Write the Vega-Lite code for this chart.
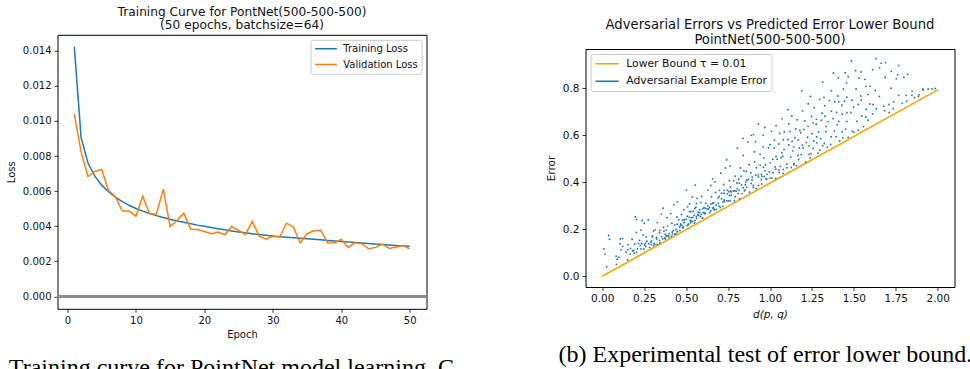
{
  "$schema": "https://vega.github.io/schema/vega-lite/v6.json",
  "padding": {"left": 5.5, "top": 0, "right": 0, "bottom": 0},
  "background": "white",
  "spacing": 91,
  "resolve": {"scale": {"color": "independent", "x": "independent", "y": "independent"}, "legend": {"color": "independent"}},
  "config": {
    "font": "DejaVu Sans",
    "view": {"stroke": "#000000", "strokeWidth": 1},
    "axis": {"grid": false, "domain": false, "tickColor": "#000000", "tickSize": 3.5, "tickWidth": 0.8, "labelColor": "#111111", "labelFont": "DejaVu Sans", "labelFontSize": 10, "titleFont": "DejaVu Sans", "titleFontWeight": "normal", "titleFontSize": 10, "titleColor": "#111111", "labelPadding": 3},
    "title": {"font": "DejaVu Sans", "fontWeight": "normal", "color": "#111111"}
  },
  "datasets": {
    "none": [],
    "loss": [
      {"ep":1,"loss":0.01423,"s":"Training Loss"},{"ep":2,"loss":0.00905,"s":"Training Loss"},{"ep":3,"loss":0.0076,"s":"Training Loss"},{"ep":4,"loss":0.00685,"s":"Training Loss"},{"ep":5,"loss":0.00634,"s":"Training Loss"},
      {"ep":6,"loss":0.00596,"s":"Training Loss"},{"ep":7,"loss":0.00565,"s":"Training Loss"},{"ep":8,"loss":0.0054,"s":"Training Loss"},{"ep":9,"loss":0.00519,"s":"Training Loss"},{"ep":10,"loss":0.00501,"s":"Training Loss"},
      {"ep":11,"loss":0.00486,"s":"Training Loss"},{"ep":12,"loss":0.00472,"s":"Training Loss"},{"ep":13,"loss":0.0046,"s":"Training Loss"},{"ep":14,"loss":0.00449,"s":"Training Loss"},{"ep":15,"loss":0.00439,"s":"Training Loss"},
      {"ep":16,"loss":0.0043,"s":"Training Loss"},{"ep":17,"loss":0.00422,"s":"Training Loss"},{"ep":18,"loss":0.00414,"s":"Training Loss"},{"ep":19,"loss":0.00406,"s":"Training Loss"},{"ep":20,"loss":0.00399,"s":"Training Loss"},
      {"ep":21,"loss":0.00392,"s":"Training Loss"},{"ep":22,"loss":0.00385,"s":"Training Loss"},{"ep":23,"loss":0.00379,"s":"Training Loss"},{"ep":24,"loss":0.00373,"s":"Training Loss"},{"ep":25,"loss":0.00367,"s":"Training Loss"},
      {"ep":26,"loss":0.00362,"s":"Training Loss"},{"ep":27,"loss":0.00357,"s":"Training Loss"},{"ep":28,"loss":0.00352,"s":"Training Loss"},{"ep":29,"loss":0.00348,"s":"Training Loss"},{"ep":30,"loss":0.00344,"s":"Training Loss"},
      {"ep":31,"loss":0.0034,"s":"Training Loss"},{"ep":32,"loss":0.00337,"s":"Training Loss"},{"ep":33,"loss":0.00334,"s":"Training Loss"},{"ep":34,"loss":0.00331,"s":"Training Loss"},{"ep":35,"loss":0.00328,"s":"Training Loss"},
      {"ep":36,"loss":0.00325,"s":"Training Loss"},{"ep":37,"loss":0.00322,"s":"Training Loss"},{"ep":38,"loss":0.00319,"s":"Training Loss"},{"ep":39,"loss":0.00316,"s":"Training Loss"},{"ep":40,"loss":0.00313,"s":"Training Loss"},
      {"ep":41,"loss":0.0031,"s":"Training Loss"},{"ep":42,"loss":0.00307,"s":"Training Loss"},{"ep":43,"loss":0.00304,"s":"Training Loss"},{"ep":44,"loss":0.00301,"s":"Training Loss"},{"ep":45,"loss":0.00298,"s":"Training Loss"},
      {"ep":46,"loss":0.00296,"s":"Training Loss"},{"ep":47,"loss":0.00293,"s":"Training Loss"},{"ep":48,"loss":0.0029,"s":"Training Loss"},{"ep":49,"loss":0.00288,"s":"Training Loss"},{"ep":50,"loss":0.00285,"s":"Training Loss"},
      {"ep":1,"loss":0.0104,"s":"Validation Loss"},{"ep":2,"loss":0.00822,"s":"Validation Loss"},{"ep":3,"loss":0.00683,"s":"Validation Loss"},{"ep":4,"loss":0.00712,"s":"Validation Loss"},{"ep":5,"loss":0.00723,"s":"Validation Loss"},
      {"ep":6,"loss":0.00603,"s":"Validation Loss"},{"ep":7,"loss":0.00569,"s":"Validation Loss"},{"ep":8,"loss":0.00486,"s":"Validation Loss"},{"ep":9,"loss":0.00486,"s":"Validation Loss"},{"ep":10,"loss":0.00457,"s":"Validation Loss"},
      {"ep":11,"loss":0.00571,"s":"Validation Loss"},{"ep":12,"loss":0.00469,"s":"Validation Loss"},{"ep":13,"loss":0.00469,"s":"Validation Loss"},{"ep":14,"loss":0.00611,"s":"Validation Loss"},{"ep":15,"loss":0.00398,"s":"Validation Loss"},
      {"ep":16,"loss":0.00433,"s":"Validation Loss"},{"ep":17,"loss":0.00474,"s":"Validation Loss"},{"ep":18,"loss":0.00383,"s":"Validation Loss"},{"ep":19,"loss":0.00381,"s":"Validation Loss"},{"ep":20,"loss":0.0037,"s":"Validation Loss"},
      {"ep":21,"loss":0.00357,"s":"Validation Loss"},{"ep":22,"loss":0.00366,"s":"Validation Loss"},{"ep":23,"loss":0.00351,"s":"Validation Loss"},{"ep":24,"loss":0.00398,"s":"Validation Loss"},{"ep":25,"loss":0.00376,"s":"Validation Loss"},
      {"ep":26,"loss":0.00353,"s":"Validation Loss"},{"ep":27,"loss":0.00427,"s":"Validation Loss"},{"ep":28,"loss":0.00345,"s":"Validation Loss"},{"ep":29,"loss":0.00326,"s":"Validation Loss"},{"ep":30,"loss":0.00342,"s":"Validation Loss"},
      {"ep":31,"loss":0.00338,"s":"Validation Loss"},{"ep":32,"loss":0.00417,"s":"Validation Loss"},{"ep":33,"loss":0.00395,"s":"Validation Loss"},{"ep":34,"loss":0.00304,"s":"Validation Loss"},{"ep":35,"loss":0.00357,"s":"Validation Loss"},
      {"ep":36,"loss":0.00374,"s":"Validation Loss"},{"ep":37,"loss":0.00376,"s":"Validation Loss"},{"ep":38,"loss":0.00306,"s":"Validation Loss"},{"ep":39,"loss":0.00304,"s":"Validation Loss"},{"ep":40,"loss":0.00324,"s":"Validation Loss"},
      {"ep":41,"loss":0.00279,"s":"Validation Loss"},{"ep":42,"loss":0.00306,"s":"Validation Loss"},{"ep":43,"loss":0.003,"s":"Validation Loss"},{"ep":44,"loss":0.00271,"s":"Validation Loss"},{"ep":45,"loss":0.00279,"s":"Validation Loss"},
      {"ep":46,"loss":0.00298,"s":"Validation Loss"},{"ep":47,"loss":0.00273,"s":"Validation Loss"},{"ep":48,"loss":0.00281,"s":"Validation Loss"},{"ep":49,"loss":0.0029,"s":"Validation Loss"},{"ep":50,"loss":0.00271,"s":"Validation Loss"}
    ],
    "bound": [{"d":0,"e":0},{"d":2,"e":0.792}],
    "adv": [
      {"d":0.010,"e":0.116},{"d":0.016,"e":0.094},{"d":0.026,"e":0.039},{"d":0.038,"e":0.173},{"d":0.043,"e":0.157},{"d":0.084,"e":0.050},{"d":0.083,"e":0.085},{"d":0.089,"e":0.072},
      {"d":0.099,"e":0.081},{"d":0.108,"e":0.158},{"d":0.106,"e":0.137},{"d":0.112,"e":0.112},{"d":0.121,"e":0.160},{"d":0.122,"e":0.127},{"d":0.142,"e":0.102},{"d":0.151,"e":0.070},{"d":0.154,"e":0.134},{"d":0.152,"e":0.113},{"d":0.167,"e":0.094},{"d":0.168,"e":0.118},{"d":0.181,"e":0.108},{"d":0.178,"e":0.157},{"d":0.188,"e":0.109},{"d":0.193,"e":0.137},
      {"d":0.197,"e":0.252},{"d":0.190,"e":0.098},{"d":0.204,"e":0.186},{"d":0.210,"e":0.117},{"d":0.204,"e":0.101},{"d":0.204,"e":0.241},{"d":0.216,"e":0.139},{"d":0.230,"e":0.116},{"d":0.230,"e":0.196},{"d":0.222,"e":0.152},{"d":0.226,"e":0.131},{"d":0.238,"e":0.237},{"d":0.248,"e":0.116},{"d":0.235,"e":0.139},{"d":0.243,"e":0.174},{"d":0.258,"e":0.140},{"d":0.252,"e":0.133},{"d":0.250,"e":0.225},{"d":0.266,"e":0.149},{"d":0.258,"e":0.126},{"d":0.262,"e":0.167},{"d":0.278,"e":0.138},{"d":0.274,"e":0.240},{"d":0.282,"e":0.122},{"d":0.294,"e":0.150},{"d":0.299,"e":0.171},
      {"d":0.292,"e":0.135},{"d":0.290,"e":0.145},{"d":0.306,"e":0.192},{"d":0.313,"e":0.136},{"d":0.299,"e":0.167},{"d":0.306,"e":0.129},{"d":0.316,"e":0.197},{"d":0.309,"e":0.139},{"d":0.323,"e":0.165},{"d":0.327,"e":0.135},{"d":0.328,"e":0.228},{"d":0.324,"e":0.158},{"d":0.341,"e":0.185},{"d":0.343,"e":0.141},{"d":0.352,"e":0.264},{"d":0.342,"e":0.152},{"d":0.343,"e":0.194},{"d":0.361,"e":0.159},{"d":0.354,"e":0.168},{"d":0.362,"e":0.289},{"d":0.373,"e":0.163},{"d":0.365,"e":0.208},{"d":0.376,"e":0.158},{"d":0.368,"e":0.191},{"d":0.375,"e":0.178},{"d":0.387,"e":0.249},{"d":0.394,"e":0.173},{"d":0.381,"e":0.196},{"d":0.381,"e":0.172},
      {"d":0.384,"e":0.170},{"d":0.389,"e":0.213},{"d":0.396,"e":0.167},{"d":0.408,"e":0.266},{"d":0.399,"e":0.181},{"d":0.418,"e":0.178},{"d":0.415,"e":0.225},{"d":0.417,"e":0.188},{"d":0.412,"e":0.169},{"d":0.427,"e":0.304},{"d":0.424,"e":0.194},{"d":0.431,"e":0.179},{"d":0.432,"e":0.218},{"d":0.440,"e":0.199},{"d":0.445,"e":0.252},{"d":0.448,"e":0.190},{"d":0.439,"e":0.180},{"d":0.456,"e":0.240},{"d":0.447,"e":0.221},{"d":0.448,"e":0.316},{"d":0.447,"e":0.189},{"d":0.466,"e":0.215},{"d":0.463,"e":0.194},{"d":0.472,"e":0.262},{"d":0.467,"e":0.222},{"d":0.462,"e":0.209},{"d":0.479,"e":0.239},{"d":0.474,"e":0.217},{"d":0.479,"e":0.206},{"d":0.486,"e":0.283},{"d":0.485,"e":0.228},{"d":0.482,"e":0.207},
      {"d":0.483,"e":0.208},{"d":0.489,"e":0.240},{"d":0.488,"e":0.229},{"d":0.502,"e":0.366},{"d":0.507,"e":0.215},{"d":0.507,"e":0.255},{"d":0.500,"e":0.242},{"d":0.510,"e":0.217},{"d":0.509,"e":0.295},{"d":0.519,"e":0.251},{"d":0.514,"e":0.222},{"d":0.520,"e":0.275},{"d":0.525,"e":0.238},{"d":0.527,"e":0.227},{"d":0.520,"e":0.308},{"d":0.532,"e":0.249},{"d":0.537,"e":0.336},{"d":0.529,"e":0.234},{"d":0.528,"e":0.274},{"d":0.538,"e":0.233},{"d":0.551,"e":0.288},{"d":0.549,"e":0.226},{"d":0.540,"e":0.250},{"d":0.542,"e":0.276},{"d":0.553,"e":0.237},{"d":0.561,"e":0.309},{"d":0.548,"e":0.259},{"d":0.554,"e":0.387},{"d":0.569,"e":0.260},{"d":0.561,"e":0.253},{"d":0.558,"e":0.293},{"d":0.572,"e":0.272},{"d":0.563,"e":0.246},{"d":0.565,"e":0.331},{"d":0.580,"e":0.270},{"d":0.574,"e":0.259},{"d":0.581,"e":0.283},{"d":0.591,"e":0.263},{"d":0.596,"e":0.248},{"d":0.588,"e":0.313},
      {"d":0.585,"e":0.254},{"d":0.600,"e":0.288},{"d":0.607,"e":0.270},{"d":0.592,"e":0.339},{"d":0.599,"e":0.247},{"d":0.608,"e":0.291},{"d":0.601,"e":0.270},{"d":0.614,"e":0.268},{"d":0.617,"e":0.310},{"d":0.618,"e":0.288},{"d":0.613,"e":0.265},{"d":0.630,"e":0.366},{"d":0.631,"e":0.285},{"d":0.640,"e":0.270},{"d":0.629,"e":0.299},{"d":0.630,"e":0.285},{"d":0.647,"e":0.386},{"d":0.640,"e":0.292},{"d":0.647,"e":0.278},{"d":0.658,"e":0.414},{"d":0.649,"e":0.307},{"d":0.660,"e":0.289},{"d":0.651,"e":0.338},{"d":0.658,"e":0.310},{"d":0.669,"e":0.284},{"d":0.676,"e":0.356},{"d":0.663,"e":0.292},{"d":0.664,"e":0.311},{"d":0.667,"e":0.283},{"d":0.672,"e":0.401},{"d":0.679,"e":0.302},{"d":0.690,"e":0.333},{"d":0.681,"e":0.284},{"d":0.699,"e":0.365},
      {"d":0.696,"e":0.298},{"d":0.697,"e":0.339},{"d":0.692,"e":0.310},{"d":0.707,"e":0.438},{"d":0.704,"e":0.292},{"d":0.711,"e":0.353},{"d":0.712,"e":0.329},{"d":0.719,"e":0.315},{"d":0.724,"e":0.390},{"d":0.727,"e":0.324},{"d":0.718,"e":0.297},{"d":0.735,"e":0.460},{"d":0.726,"e":0.353},{"d":0.727,"e":0.318},{"d":0.726,"e":0.365},{"d":0.745,"e":0.350},{"d":0.742,"e":0.495},{"d":0.751,"e":0.320},{"d":0.746,"e":0.366},{"d":0.741,"e":0.321},{"d":0.758,"e":0.406},{"d":0.753,"e":0.359},{"d":0.758,"e":0.343},{"d":0.765,"e":0.379},{"d":0.764,"e":0.362},{"d":0.761,"e":0.320},{"d":0.762,"e":0.468},{"d":0.769,"e":0.358},{"d":0.768,"e":0.344},{"d":0.783,"e":0.405},{"d":0.788,"e":0.321},{"d":0.789,"e":0.363},{"d":0.782,"e":0.362},
      {"d":0.793,"e":0.425},{"d":0.792,"e":0.338},{"d":0.803,"e":0.396},{"d":0.798,"e":0.362},{"d":0.805,"e":0.544},{"d":0.810,"e":0.352},{"d":0.813,"e":0.412},{"d":0.806,"e":0.372},{"d":0.819,"e":0.329},{"d":0.824,"e":0.460},{"d":0.817,"e":0.395},{"d":0.816,"e":0.365},{"d":0.827,"e":0.425},{"d":0.840,"e":0.376},{"d":0.839,"e":0.586},{"d":0.830,"e":0.388},{"d":0.833,"e":0.350},{"d":0.844,"e":0.448},{"d":0.853,"e":0.389},{"d":0.840,"e":0.513},{"d":0.847,"e":0.363},{"d":0.862,"e":0.408},{"d":0.855,"e":0.400},{"d":0.852,"e":0.367},{"d":0.867,"e":0.571},{"d":0.858,"e":0.446},{"d":0.861,"e":0.378},{"d":0.876,"e":0.474},{"d":0.871,"e":0.411},{"d":0.878,"e":0.357},{"d":0.889,"e":0.599},{"d":0.894,"e":0.421},{"d":0.887,"e":0.394},
      {"d":0.886,"e":0.440},{"d":0.901,"e":0.377},{"d":0.908,"e":0.529},{"d":0.893,"e":0.409},{"d":0.900,"e":0.386},{"d":0.909,"e":0.486},{"d":0.902,"e":0.602},{"d":0.915,"e":0.429},{"d":0.918,"e":0.373},{"d":0.919,"e":0.461},{"d":0.914,"e":0.572},{"d":0.931,"e":0.422},{"d":0.932,"e":0.386},{"d":0.941,"e":0.518},{"d":0.930,"e":0.431},{"d":0.931,"e":0.647},{"d":0.948,"e":0.411},{"d":0.941,"e":0.472},{"d":0.948,"e":0.433},{"d":0.959,"e":0.550},{"d":0.950,"e":0.392},{"d":0.961,"e":0.463},{"d":0.952,"e":0.425},{"d":0.959,"e":0.600},{"d":0.970,"e":0.448},{"d":0.977,"e":0.413},{"d":0.964,"e":0.503},{"d":0.965,"e":0.424},{"d":0.968,"e":0.632},{"d":0.973,"e":0.474},{"d":0.980,"e":0.413},{"d":0.991,"e":0.546},{"d":0.982,"e":0.433},
      {"d":1.001,"e":0.482},{"d":0.999,"e":0.416},{"d":1.000,"e":0.559},{"d":0.996,"e":0.443},{"d":1.011,"e":0.418},{"d":1.009,"e":0.616},{"d":1.016,"e":0.497},{"d":1.018,"e":0.440},{"d":1.025,"e":0.545},{"d":1.031,"e":0.464},{"d":1.034,"e":0.416},{"d":1.026,"e":0.578},{"d":1.043,"e":0.497},{"d":1.035,"e":0.455},{"d":1.036,"e":0.640},{"d":1.036,"e":0.509},{"d":1.055,"e":0.441},{"d":1.053,"e":0.562},{"d":1.062,"e":0.467},{"d":1.058,"e":0.607},{"d":1.053,"e":0.452},{"d":1.071,"e":0.525},{"d":1.066,"e":0.504},{"d":1.072,"e":0.669},{"d":1.079,"e":0.454},{"d":1.079,"e":0.580},{"d":1.076,"e":0.510},{"d":1.078,"e":0.437},{"d":1.085,"e":0.613},
      {"d":1.084,"e":0.539},{"d":1.100,"e":0.476},{"d":1.106,"e":0.708},{"d":1.107,"e":0.581},{"d":1.101,"e":0.461},{"d":1.112,"e":0.558},{"d":1.112,"e":0.648},{"d":1.124,"e":0.506},{"d":1.119,"e":0.615},{"d":1.127,"e":0.462},{"d":1.132,"e":0.573},{"d":1.136,"e":0.533},{"d":1.130,"e":0.681},{"d":1.143,"e":0.479},{"d":1.149,"e":0.589},{"d":1.142,"e":0.550},{"d":1.142,"e":0.474},{"d":1.154,"e":0.626},{"d":1.167,"e":0.513},{"d":1.167,"e":0.578},{"d":1.158,"e":0.470},{"d":1.162,"e":0.665},{"d":1.174,"e":0.546},{"d":1.183,"e":0.610},{"d":1.171,"e":0.496},{"d":1.178,"e":0.620},{"d":1.194,"e":0.557},
      {"d":1.189,"e":0.789},{"d":1.186,"e":0.517},{"d":1.202,"e":0.624},{"d":1.194,"e":0.703},{"d":1.197,"e":0.545},{"d":1.213,"e":0.485},{"d":1.208,"e":0.660},{"d":1.216,"e":0.568},{"d":1.228,"e":0.733},{"d":1.233,"e":0.518},{"d":1.227,"e":0.637},{"d":1.224,"e":0.591},{"d":1.240,"e":0.503},{"d":1.248,"e":0.679},{"d":1.233,"e":0.554},{"d":1.241,"e":0.764},{"d":1.250,"e":0.606},{"d":1.244,"e":0.521},{"d":1.258,"e":0.651},{"d":1.261,"e":0.574},{"d":1.263,"e":0.716},{"d":1.258,"e":0.544},{"d":1.276,"e":0.646},{"d":1.278,"e":0.593},{"d":1.287,"e":0.523},{"d":1.277,"e":0.667},{"d":1.278,"e":0.567},{"d":1.296,"e":0.752},
      {"d":1.290,"e":0.612},{"d":1.298,"e":0.536},{"d":1.310,"e":0.693},{"d":1.302,"e":0.585},{"d":1.314,"e":0.825},{"d":1.306,"e":0.663},{"d":1.314,"e":0.555},{"d":1.326,"e":0.725},{"d":1.334,"e":0.614},{"d":1.322,"e":0.760},{"d":1.324,"e":0.564},{"d":1.328,"e":0.680},{"d":1.334,"e":0.636},{"d":1.342,"e":0.548},{"d":1.354,"e":0.747},{"d":1.346,"e":0.657},{"d":1.366,"e":0.789},{"d":1.364,"e":0.593},{"d":1.366,"e":0.702},{"d":1.362,"e":0.560},{"d":1.378,"e":0.864},{"d":1.376,"e":0.670},{"d":1.384,"e":0.617},{"d":1.386,"e":0.741},{"d":1.394,"e":0.593},
      {"d":1.401,"e":0.644},{"d":1.405,"e":0.766},{"d":1.397,"e":0.696},{"d":1.415,"e":0.575},{"d":1.408,"e":0.843},{"d":1.410,"e":0.658},{"d":1.410,"e":0.742},{"d":1.430,"e":0.613},{"d":1.428,"e":0.727},{"d":1.438,"e":0.796},{"d":1.434,"e":0.588},{"d":1.430,"e":0.689},{"d":1.448,"e":0.865},{"d":1.444,"e":0.744},{"d":1.450,"e":0.625},{"d":1.458,"e":0.761},{"d":1.458,"e":0.658},{"d":1.456,"e":0.822},{"d":1.458,"e":0.695},{"d":1.466,"e":0.590},{"d":1.466,"e":0.848},{"d":1.482,"e":0.696},{"d":1.488,"e":0.748},{"d":1.490,"e":0.617},
      {"d":1.486,"e":0.915},{"d":1.499,"e":0.719},{"d":1.500,"e":0.612},{"d":1.513,"e":0.796},{"d":1.510,"e":0.874},{"d":1.519,"e":0.659},{"d":1.526,"e":0.730},{"d":1.531,"e":0.842},{"d":1.526,"e":0.621},{"d":1.541,"e":0.766},{"d":1.548,"e":0.681},{"d":1.543,"e":0.868},{"d":1.544,"e":0.749},{"d":1.557,"e":0.636},{"d":1.572,"e":0.807},{"d":1.573,"e":0.710},{"d":1.566,"e":0.837},{"d":1.571,"e":0.677},{"d":1.584,"e":0.772},{"d":1.595,"e":0.732},
      {"d":1.585,"e":0.663},{"d":1.596,"e":0.808},{"d":1.615,"e":0.730},{"d":1.612,"e":0.878},{"d":1.613,"e":0.690},{"d":1.632,"e":0.925},{"d":1.627,"e":0.790},{"d":1.634,"e":0.712},{"d":1.653,"e":0.886},{"d":1.652,"e":0.764},{"d":1.663,"e":0.905},{"d":1.678,"e":0.723},{"d":1.687,"e":0.846},{"d":1.684,"e":0.704},
      {"d":1.689,"e":0.908},{"d":1.709,"e":0.730},{"d":1.721,"e":0.799},{"d":1.711,"e":0.696},{"d":1.723,"e":0.871},{"d":1.737,"e":0.741},{"d":1.735,"e":0.712},{"d":1.753,"e":0.839},{"d":1.761,"e":0.856},{"d":1.767,"e":0.769},{"d":1.767,"e":0.896},{"d":1.789,"e":0.735},
      {"d":1.798,"e":0.846},{"d":1.815,"e":0.744},{"d":1.812,"e":0.769},{"d":1.821,"e":0.858},{"d":1.846,"e":0.770},{"d":1.847,"e":0.786},{"d":1.862,"e":0.760},{"d":1.885,"e":0.764},
      {"d":1.888,"e":0.771},{"d":1.911,"e":0.796},{"d":1.914,"e":0.791},{"d":1.943,"e":0.796},{"d":1.966,"e":0.796},{"d":1.985,"e":0.798}
    ]
  },
  "hconcat": [
    {
      "title": {"text": "Training curve for PointNet model learning. C", "orient": "bottom", "anchor": "start", "font": "Liberation Serif", "fontSize": 24, "offset": 16, "dx": 3, "color": "#000000"},
      "resolve": {"legend": {"color": "independent"}},
      "spacing": 3.8,
      "vconcat": [
        {
          "width": 369,
          "height": 1,
          "view": {"stroke": null},
          "data": {"name": "none"},
          "mark": "point",
          "encoding": {}
        },
        {
          "width": 369,
          "height": 274,
          "title": {"text": ["Training Curve for PontNet(500-500-500)", "(50 epochs, batchsize=64)"], "fontSize": 12.2, "lineHeight": 13, "frame": "group", "anchor": "middle", "offset": 3.5},
          "data": {"name": "loss"},
          "layer": [
            {
              "mark": {"type": "rule", "color": "#8c8c8c", "strokeWidth": 1.6},
              "encoding": {
                "y": {"datum": 0, "type": "quantitative", "scale": {"domain": [-0.00071, 0.01491], "nice": false, "zero": false}, "axis": {"title": "Loss", "values": [0, 0.002, 0.004, 0.006, 0.008, 0.01, 0.012, 0.014], "format": ".3f", "titlePadding": 6}}
              }
            },
            {
              "mark": {"type": "line", "strokeWidth": 1.5},
              "encoding": {
                "x": {"field": "ep", "type": "quantitative", "scale": {"domain": [-1.45, 52.45], "nice": false, "zero": false}, "axis": {"title": "Epoch", "values": [0, 10, 20, 30, 40, 50], "format": "d", "titlePadding": 4}},
                "y": {"field": "loss", "type": "quantitative", "scale": {"domain": [-0.00071, 0.01491], "nice": false, "zero": false}, "axis": {"title": "Loss", "values": [0, 0.002, 0.004, 0.006, 0.008, 0.01, 0.012, 0.014], "format": ".3f", "titlePadding": 6}},
                "color": {"field": "s", "type": "nominal", "scale": {"domain": ["Training Loss", "Validation Loss"], "range": ["#1f77b4", "#ff7f0e"]},
                  "legend": {"orient": "top-right", "offset": 5, "title": null, "symbolType": "stroke", "symbolSize": 470, "symbolStrokeWidth": 1.5, "labelFontSize": 10, "labelFont": "DejaVu Sans", "labelColor": "#111111", "labelOffset": 5.3, "padding": 3.5, "rowPadding": 4.7, "clipHeight": 11, "strokeColor": "#cccccc", "cornerRadius": 2, "fillColor": "#ffffff"}}
              }
            }
          ]
        }
      ]
    },
    {
      "title": {"text": "(b) Experimental test of error lower bound.", "orient": "bottom", "anchor": "start", "frame": "group", "dx": -27, "font": "Liberation Serif", "fontSize": 24, "offset": 22.5, "color": "#000000"},
      "resolve": {"legend": {"color": "independent"}},
      "spacing": 16,
      "vconcat": [
        {
          "width": 369,
          "height": 1,
          "view": {"stroke": null},
          "data": {"name": "none"},
          "mark": "point",
          "encoding": {}
        },
        {
          "width": 369,
          "height": 238,
          "title": {"text": ["Adversarial Errors vs Predicted Error Lower Bound", "PointNet(500-500-500)"], "fontSize": 13.2, "lineHeight": 15, "frame": "group", "anchor": "middle", "offset": 2.3},
          "layer": [
            {
              "data": {"name": "bound"},
              "mark": {"type": "line", "strokeWidth": 1.6},
              "encoding": {
                "x": {"field": "d", "type": "quantitative", "scale": {"domain": [-0.1, 2.1], "nice": false, "zero": false}, "axis": {"title": "d(p, q)", "titleFontStyle": "italic", "values": [0, 0.25, 0.5, 0.75, 1, 1.25, 1.5, 1.75, 2], "format": ".2f", "labelFontSize": 10.5, "titleFontSize": 10.5, "titlePadding": 5}},
                "y": {"field": "e", "type": "quantitative", "scale": {"domain": [-0.046, 0.966], "nice": false, "zero": false}, "axis": {"title": "Error", "values": [0, 0.2, 0.4, 0.6, 0.8], "format": ".1f", "labelFontSize": 10.5, "titleFontSize": 10.5, "titlePadding": 6}},
                "color": {"datum": "Lower Bound τ = 0.01", "type": "nominal"}
              }
            },
            {
              "data": {"name": "adv"},
              "mark": {"type": "point", "filled": true, "size": 3.5, "opacity": 1},
              "encoding": {
                "x": {"field": "d", "type": "quantitative", "scale": {"domain": [-0.1, 2.1], "nice": false, "zero": false}, "axis": {"title": "d(p, q)", "titleFontStyle": "italic", "values": [0, 0.25, 0.5, 0.75, 1, 1.25, 1.5, 1.75, 2], "format": ".2f", "labelFontSize": 10.5, "titleFontSize": 10.5, "titlePadding": 5}},
                "y": {"field": "e", "type": "quantitative", "scale": {"domain": [-0.046, 0.966], "nice": false, "zero": false}, "axis": {"title": "Error", "values": [0, 0.2, 0.4, 0.6, 0.8], "format": ".1f", "labelFontSize": 10.5, "titleFontSize": 10.5, "titlePadding": 6}},
                "color": {"datum": "Adversarial Example Error", "type": "nominal",
                  "scale": {"domain": ["Lower Bound τ = 0.01", "Adversarial Example Error"], "range": ["#ffa500", "#1f77b4"]},
                  "legend": {"orient": "top-left", "offset": 5, "title": null, "symbolType": "stroke", "symbolSize": 543, "symbolStrokeWidth": 1.6, "labelFontSize": 10.8, "labelFont": "DejaVu Sans", "labelColor": "#111111", "labelOffset": 6.7, "padding": 4, "rowPadding": 4.5, "clipHeight": 11.5, "strokeColor": "#cccccc", "cornerRadius": 2, "fillColor": "#ffffff",
                    "encode": {"symbols": {"update": {
                      "shape": {"signal": "datum.value === 'Adversarial Example Error' ? 'circle' : 'stroke'"},
                      "size": {"signal": "datum.value === 'Adversarial Example Error' ? 4 : 543"},
                      "fill": {"signal": "datum.value === 'Adversarial Example Error' ? '#1f77b4' : 'transparent'"},
                      "stroke": {"signal": "datum.value === 'Adversarial Example Error' ? 'transparent' : '#ffa500'"},
                      "strokeWidth": {"value": 1.6}
                    }}}}}
              }
            }
          ]
        }
      ]
    }
  ]
}
